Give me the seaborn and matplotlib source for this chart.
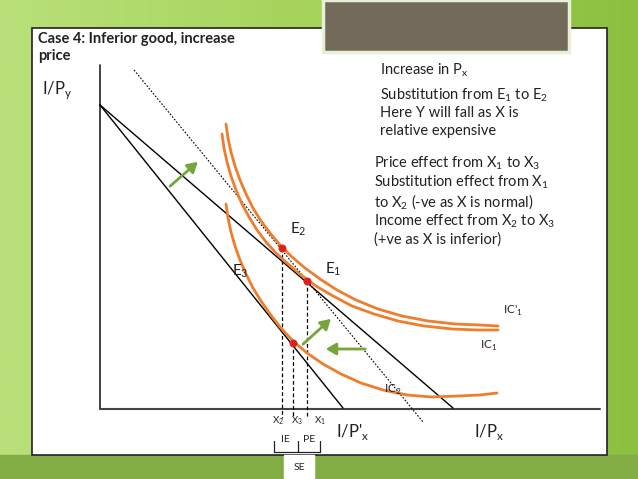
import numpy as np
import matplotlib
matplotlib.use("Agg")
import matplotlib.pyplot as plt
import seaborn as sns
from matplotlib.patches import Rectangle, FancyArrowPatch
from matplotlib.colors import LinearSegmentedColormap

sns.set_style("white")
plt.rcParams['font.family'] = ['Lato', 'DejaVu Sans']

# --- diagram data (pixel space of the slide) ---
origin = (100, 105)
budget_orig_end = (453, 408)      # I/Px
budget_new_end = (343, 408)       # I/P'x
comp_line = [(134, 70), (423, 422)]
ic1p_x = [226, 228, 231, 235, 240, 246, 253, 261, 270, 280, 292, 305, 320, 337, 356, 378, 402, 428, 455, 480, 498]
ic1p_y = [124, 138, 152, 166, 180, 194, 208, 221, 233, 245, 257, 268, 279, 290, 300, 309, 316, 321, 324, 325, 326]
ic1_x = [222, 224, 227, 231, 236, 242, 249, 257, 266, 276, 288, 301, 316, 333, 352, 374, 398, 424, 452, 478, 498]
ic1_y = [134, 148, 162, 176, 190, 204, 217, 230, 242, 253, 264, 275, 286, 296, 306, 314, 321, 326, 329, 330, 330]
ic2_x = [226, 228, 231, 235, 240, 246, 253, 261, 270, 280, 293, 307, 323, 341, 361, 383, 407, 432, 458, 480, 497]
ic2_y = [204, 218, 232, 246, 260, 274, 288, 301, 314, 327, 341, 353, 364, 374, 383, 390, 395, 397, 396, 395, 393]
eq_names = ["E2", "E1", "E3"]
eq_x = [282, 307, 293]
eq_y = [248, 281, 343]

fig = plt.figure(figsize=(6.38, 4.79), dpi=100)
ax = fig.add_axes([0, 0, 1, 1])

grad = np.linspace(0, 1, 256)[None, :]
cm = LinearSegmentedColormap.from_list("g", ["#b9e07a", "#a6d35a", "#8cc03e"])
ax.imshow(grad, cmap=cm, extent=[0, 638, 479, 0], aspect="auto", zorder=0)
ax.add_patch(Rectangle((0, 455), 638, 24, color="#82ad44", zorder=0.5))
ax.add_patch(Rectangle((32, 28), 575, 427, facecolor="white", edgecolor="#222222", lw=1.2, zorder=1))
ax.add_patch(Rectangle((323, 0), 246, 52, facecolor="#736a5c", edgecolor="#e8f0d8", lw=2.5, zorder=2))
ax.add_patch(Rectangle((284, 455), 30, 24, facecolor="white", zorder=2))

ax.plot([100, 100], [65, 409], color="#222222", lw=1.2, zorder=3)
ax.plot([100, 600], [409, 409], color="#444444", lw=1.5, zorder=3)

ax.plot([origin[0], budget_orig_end[0]], [origin[1], budget_orig_end[1]], color="black", lw=1, zorder=4)
ax.plot([origin[0], budget_new_end[0]], [origin[1], budget_new_end[1]], color="black", lw=1, zorder=4)
ax.plot([p[0] for p in comp_line], [p[1] for p in comp_line], color="black", lw=0.8, ls=(0, (1.5, 1.5)), zorder=4)

orange = "#ee7d2d"
for xs, ys in [(ic1p_x, ic1p_y), (ic1_x, ic1_y), (ic2_x, ic2_y)]:
    sns.lineplot(x=xs, y=ys, ax=ax, color=orange, lw=2, sort=False, zorder=5)

for x, y in zip(eq_x, eq_y):
    ax.plot([x, x], [y, 418], color="black", lw=0.9, ls=(0, (3, 2)), zorder=4)
ax.scatter(eq_x, eq_y, color="#e0201a", s=22, zorder=6)

green = "#77a53b"
for (x0, y0), (x1, y1) in [((168, 188), (200, 160)), ((301, 346), (333, 317)), ((368, 349), (323, 349))]:
    ax.add_patch(FancyArrowPatch((x0, y0), (x1, y1), arrowstyle="-|>,head_length=6,head_width=3.5",
                                 color=green, lw=2, zorder=6))

tc = "#222222"
ax.text(38, 32, "Case 4: Inferior good, increase\nprice", fontsize=10.5, fontweight="bold", va="top", color=tc, linespacing=1.3, zorder=7)
ax.text(42, 90, "I/P$_\\mathregular{y}$", fontsize=12, va="center", color=tc, zorder=7)
rt = ["Increase in P$_\\mathregular{x}$", "Substitution from E$_\\mathregular{1}$ to E$_\\mathregular{2}$",
      "Here Y will fall as X is", "relative expensive"]
for s, y in zip(rt, [70, 95, 113, 131]):
    ax.text(380, y, s, fontsize=10.5, va="center", color=tc, zorder=7)
rt2 = ["Price effect from X$_\\mathregular{1}$ to X$_\\mathregular{3}$",
       "Substitution effect from X$_\\mathregular{1}$",
       "to X$_\\mathregular{2}$ (-ve as X is normal)",
       "Income effect from X$_\\mathregular{2}$ to X$_\\mathregular{3}$",
       "(+ve as X is inferior)"]
for s, y in zip(rt2, [163, 182, 202, 221, 240]):
    ax.text(374, y, s, fontsize=10.5, va="center", color=tc, zorder=7)

for s, x, y in [("E$_\\mathregular{2}$", 290, 229), ("E$_\\mathregular{1}$", 325, 269), ("E$_\\mathregular{3}$", 232, 271)]:
    ax.text(x, y, s, fontsize=11, va="center", color=tc, zorder=7)
ax.text(503, 311, "IC'$_\\mathregular{1}$", fontsize=8.5, va="center", color=tc, zorder=7)
ax.text(480, 346, "IC$_\\mathregular{1}$", fontsize=8.5, va="center", color=tc, zorder=7)
ax.text(384, 390, "IC$_\\mathregular{2}$", fontsize=8.5, va="center", color=tc, zorder=7)
for s, x in [("X$_\\mathregular{2}$", 272), ("X$_\\mathregular{3}$", 291), ("X$_\\mathregular{1}$", 314)]:
    ax.text(x, 421, s, fontsize=7, va="center", color=tc, zorder=7)
ax.text(336, 432, "I/P'$_\\mathregular{x}$", fontsize=12, va="center", color=tc, zorder=7)
ax.text(474, 432, "I/P$_\\mathregular{x}$", fontsize=12, va="center", color=tc, zorder=7)
ax.plot([274, 274, 320, 320], [441, 452, 452, 441], color=tc, lw=0.9, zorder=7)
ax.plot([298, 298], [441, 452], color=tc, lw=0.9, zorder=7)
ax.text(285, 440, "IE", fontsize=7.5, ha="center", va="center", color=tc, zorder=7)
ax.text(309, 440, "PE", fontsize=7.5, ha="center", va="center", color=tc, zorder=7)
ax.text(299, 467, "SE", fontsize=7.5, ha="center", va="center", color=tc, zorder=7)

ax.set_xlim(0, 638)
ax.set_ylim(479, 0)
ax.axis("off")
fig.savefig("out.png", dpi=100)
